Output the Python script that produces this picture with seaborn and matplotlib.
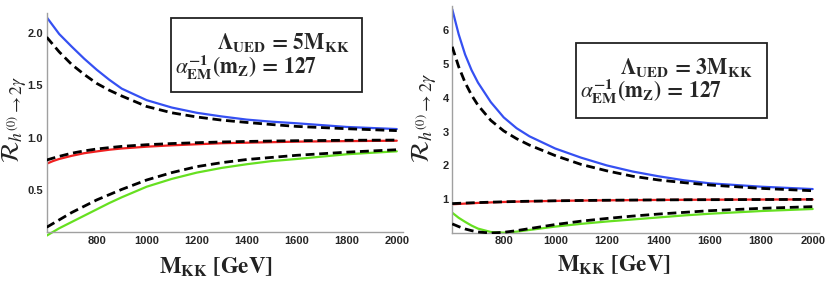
import numpy as np
import pandas as pd
import matplotlib
matplotlib.use("Agg")
import matplotlib.pyplot as plt
from matplotlib.patches import Rectangle
from matplotlib.ticker import MultipleLocator, FixedLocator, FormatStrFormatter
import seaborn as sns

# ---------------- data ----------------
M_KK = [600, 625, 650, 675, 700, 750, 800, 850, 900, 1000, 1100, 1200,
        1300, 1400, 1500, 1600, 1800, 2000]

# Left panel: Lambda_UED = 5 M_KK
L_blue = [2.15, 2.07, 1.99, 1.93, 1.87, 1.755, 1.65, 1.555, 1.47, 1.36, 1.29,
          1.24, 1.205, 1.175, 1.155, 1.14, 1.105, 1.085]
L_blue_dash = [1.96, 1.89, 1.82, 1.76, 1.70, 1.605, 1.52, 1.455, 1.40, 1.30,
               1.24, 1.20, 1.17, 1.148, 1.128, 1.11, 1.088, 1.07]
L_red = [0.755, 0.78, 0.80, 0.815, 0.83, 0.855, 0.872, 0.888, 0.90, 0.917,
         0.93, 0.94, 0.95, 0.955, 0.96, 0.965, 0.970, 0.974]
L_red_dash = [0.79, 0.808, 0.825, 0.84, 0.855, 0.877, 0.895, 0.908, 0.92,
              0.936, 0.947, 0.955, 0.962, 0.967, 0.971, 0.974, 0.978, 0.98]
L_green = [0.07, 0.105, 0.14, 0.17, 0.20, 0.26, 0.32, 0.38, 0.435, 0.536,
           0.61, 0.67, 0.715, 0.75, 0.78, 0.80, 0.845, 0.873]
L_green_dash = [0.15, 0.185, 0.22, 0.255, 0.29, 0.35, 0.41, 0.46, 0.51, 0.60,
                0.67, 0.727, 0.765, 0.795, 0.815, 0.835, 0.865, 0.888]

# Right panel: Lambda_UED = 3 M_KK
R_blue = [6.62, 5.88, 5.28, 4.82, 4.45, 3.87, 3.42, 3.10, 2.86, 2.50, 2.23,
          2.00, 1.82, 1.68, 1.56, 1.47, 1.37, 1.30]
R_blue_dash = [5.51, 4.92, 4.45, 4.08, 3.78, 3.33, 3.02, 2.79, 2.60, 2.29,
               2.03, 1.84, 1.68, 1.57, 1.49, 1.42, 1.32, 1.25]
R_red = [0.85, 0.86, 0.87, 0.88, 0.89, 0.905, 0.918, 0.928, 0.937, 0.95,
         0.96, 0.967, 0.973, 0.978, 0.982, 0.985, 0.99, 0.993]
R_red_dash = [0.87, 0.878, 0.886, 0.893, 0.90, 0.912, 0.923, 0.932, 0.94,
              0.953, 0.962, 0.969, 0.975, 0.979, 0.983, 0.986, 0.99, 0.994]
R_green = [0.60, 0.45, 0.33, 0.22, 0.13, 0.03, 0.01, 0.04, 0.09, 0.19, 0.27,
           0.34, 0.40, 0.46, 0.52, 0.57, 0.65, 0.71]
R_green_dash = [0.27, 0.19, 0.12, 0.07, 0.03, 0.0, 0.02, 0.07, 0.13, 0.25,
                0.35, 0.43, 0.50, 0.56, 0.61, 0.66, 0.73, 0.78]

x_ticks = [800, 1000, 1200, 1400, 1600, 1800, 2000]
L_yticks = [0.5, 1.0, 1.5, 2.0]
R_yticks = [1, 2, 3, 4, 5, 6]

# ---------------- style ----------------
sns.set_theme(style="white")
plt.rcParams["mathtext.fontset"] = "stix"
plt.rcParams["font.family"] = ["Liberation Sans", "DejaVu Sans"]

BLUE = "#3550f2"
RED = "#f02020"
GREEN = "#66e020"
AXC = "#a0a0a0"

fig = plt.figure(figsize=(8.31, 2.84), dpi=100)
axL = fig.add_axes([0.0562, 0.1648, 0.4288, 0.7893])
axR = fig.add_axes([0.5442, 0.1748, 0.4415, 0.8046])


def draw(ax, solids, dashes):
    for vals, col in solids:
        df = pd.DataFrame({"M": M_KK, "R": vals})
        sns.lineplot(data=df, x="M", y="R", ax=ax, color=col, linewidth=1.6,
                     zorder=2)
    for vals in dashes:
        df = pd.DataFrame({"M": M_KK, "R": vals})
        sns.lineplot(data=df, x="M", y="R", ax=ax, color="black",
                     linewidth=2.0, linestyle=(0, (3.2, 1.7)), zorder=3)


draw(axL, [(L_blue, BLUE), (L_red, RED), (L_green, GREEN)],
     [L_blue_dash, L_red_dash, L_green_dash])
draw(axR, [(R_blue, BLUE), (R_red, RED), (R_green, GREEN)],
     [R_blue_dash, R_red_dash, R_green_dash])


def style_axes(ax, ylim, yorigin, yticks, yminor, fmt):
    ax.set_xlim(600, 2025)
    ax.set_ylim(*ylim)
    ax.set_xlabel("")
    ax.set_ylabel("")
    for s in ["top", "right"]:
        ax.spines[s].set_visible(False)
    for s in ["left", "bottom"]:
        ax.spines[s].set_color(AXC)
        ax.spines[s].set_linewidth(1.0)
    ax.spines["bottom"].set_position(("data", yorigin))
    ax.spines["left"].set_position(("data", 600))
    ax.spines["left"].set_bounds(yorigin, ylim[1])
    ax.xaxis.set_major_locator(FixedLocator(x_ticks))
    ax.xaxis.set_minor_locator(MultipleLocator(50))
    ax.yaxis.set_major_locator(FixedLocator(yticks))
    ax.yaxis.set_minor_locator(MultipleLocator(yminor))
    ax.yaxis.set_major_formatter(FormatStrFormatter(fmt))
    ax.tick_params(which="both", direction="in", color=AXC, width=0.8)
    ax.tick_params(which="major", length=3.2, labelsize=8, pad=2.5)
    ax.tick_params(which="minor", length=1.8)
    for lab in ax.get_xticklabels() + ax.get_yticklabels():
        lab.set_fontweight("bold")
    ax.grid(False)
    ax.patch.set_alpha(0)


style_axes(axL, (0.055, 2.19), 0.1, L_yticks, 0.1, "%.1f")
style_axes(axR, (-0.04, 6.72), 0.0, R_yticks, 0.2, "%d")

# ---------------- boxes ----------------
def box(x0, y0, w, h, line1, p1, line2, p2):
    fig.patches.append(Rectangle((x0, y0), w, h, transform=fig.transFigure,
                                 fill=False, edgecolor="#222222", lw=1.3))
    fig.text(p1[0], p1[1], line1, ha="right", va="center", fontsize=15.5)
    fig.text(p2[0], p2[1], line2, ha="left", va="center", fontsize=15.5)


line2 = r"$\alpha_{\mathbf{EM}}^{\mathbf{-1}}\mathbf{(m_Z)\,=\,127}$"
box(0.2058, 0.677, 0.2295, 0.2585,
    r"$\mathbf{\Lambda_{UED}\,=\,5M_{KK}}$", (0.421, 0.8486),
    line2, (0.211, 0.764))
box(0.6931, 0.5856, 0.2302, 0.262,
    r"$\mathbf{\Lambda_{UED}\,=\,3M_{KK}}$", (0.9061, 0.7595),
    line2, (0.6984, 0.677))

# ---------------- axis titles ----------------
ylab = r"$\mathcal{R}_{h^{(0)}\to 2\gamma}$"
fig.text(0.0168, 0.58, ylab, rotation=90, ha="center", va="center",
         fontsize=18, color="#222222")
fig.text(0.511, 0.585, ylab, rotation=90, ha="center", va="center",
         fontsize=18.5, color="#222222")
xlab = r"$\mathbf{M_{KK}\ [GeV]}$"
fig.text(0.26, 0.06, xlab, ha="center", va="center", fontsize=16.5,
         color="#222222")
fig.text(0.739, 0.067, xlab, ha="center", va="center", fontsize=16.5,
         color="#222222")

fig.savefig("out.png", dpi=100)
